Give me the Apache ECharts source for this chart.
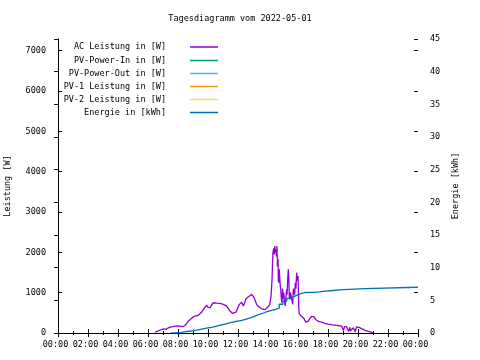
<!DOCTYPE html>
<html>
<head>
<meta charset="utf-8">
<script src="https://cdn.jsdelivr.net/npm/echarts@6/dist/echarts.min.js"></script>
<style>html,body{margin:0;padding:0;background:#fff}#c{width:480px;height:360px}</style>
</head>
<body>
<div id="c"></div>
<script>
// ---- data (time in hours of day) ----
const titleText = 'Tagesdiagramm vom 2022-05-01';
const seriesNames = ['AC Leistung in [W]', 'PV-Power-In in [W]', 'PV-Power-Out in [W]', 'PV-1 Leistung in [W]', 'PV-2 Leistung in [W]', 'Energie in [kWh]'];
const seriesColors = ['#9400d3', '#009e73', '#56b4e9', '#e69f00', '#f0e442', '#0072b2'];
const xTicks = [0, 2, 4, 6, 8, 10, 12, 14, 16, 18, 20, 22, 24];

const acTimes = [6.47, 6.55, 6.62, 6.69, 6.75, 6.85, 6.91, 6.98, 7.05, 7.13, 7.2, 7.28, 7.36, 7.45, 7.55, 7.69, 7.8, 7.9, 8.02, 8.1, 8.2, 8.3, 8.36, 8.45, 8.58, 8.7, 8.8, 8.95, 9.05, 9.13, 9.25, 9.36, 9.47, 9.58, 9.69, 9.8, 9.91, 9.98, 10.05, 10.13, 10.25, 10.36, 10.47, 10.58, 10.7, 10.8, 10.9, 11.02, 11.13, 11.24, 11.35, 11.47, 11.56, 11.64, 11.75, 11.87, 11.98, 12.09, 12.17, 12.24, 12.36, 12.45, 12.53, 12.65, 12.76, 12.85, 12.91, 13.0, 13.07, 13.15, 13.24, 13.35, 13.47, 13.58, 13.69, 13.8, 13.91, 14.0, 14.05, 14.1, 14.15, 14.2, 14.27, 14.3, 14.33, 14.38, 14.42, 14.45, 14.49, 14.53, 14.57, 14.6, 14.63, 14.67, 14.69, 14.71, 14.75, 14.78, 14.82, 14.85, 14.89, 14.93, 14.97, 15.01, 15.05, 15.1, 15.15, 15.2, 15.24, 15.27, 15.31, 15.35, 15.38, 15.42, 15.45, 15.5, 15.55, 15.6, 15.65, 15.69, 15.73, 15.78, 15.82, 15.86, 15.91, 15.95, 16.0, 16.03, 16.05, 16.08, 16.13, 16.2, 16.36, 16.45, 16.53, 16.6, 16.69, 16.77, 16.84, 16.91, 16.98, 17.05, 17.13, 17.2, 17.29, 17.4, 17.58, 17.7, 17.8, 18.0, 18.13, 18.3, 18.58, 18.75, 18.91, 19.02, 19.03, 19.1, 19.24, 19.36, 19.37, 19.47, 19.48, 19.69, 19.8, 19.81, 19.9, 20.02, 20.08, 20.12, 20.14, 20.24, 20.35, 20.47, 20.58, 20.69, 20.8, 20.91, 21.0];
const acValues = [20, 60, 40, 75, 45, 80, 50, 90, 100, 110, 90, 125, 130, 145, 150, 156, 165, 175, 190, 170, 185, 160, 175, 180, 240, 300, 340, 380, 400, 420, 430, 440, 470, 520, 585, 640, 690, 640, 660, 625, 700, 750, 770, 740, 760, 735, 740, 710, 700, 668, 620, 545, 500, 486, 490, 520, 620, 710, 740, 760, 668, 760, 850, 880, 916, 940, 960, 920, 876, 800, 710, 660, 628, 600, 568, 580, 600, 650, 668, 700, 792, 900, 1330, 1700, 1992, 2100, 1950, 2157, 2000, 2075, 1900, 2157, 1650, 1826, 1300, 1248, 1578, 1578, 1150, 1082, 850, 752, 1100, 850, 1000, 800, 668, 900, 1082, 950, 1300, 1578, 1450, 900, 834, 1000, 1000, 800, 710, 1100, 1082, 950, 1248, 1100, 1496, 1300, 1412, 1000, 668, 480, 450, 420, 380, 320, 270, 280, 295, 350, 380, 410, 420, 405, 380, 330, 295, 280, 270, 250, 238, 220, 213, 200, 189, 180, 172, 165, 60, 160, 156, 150, 40, 145, 50, 131, 125, 30, 150, 172, 140, 100, 150, 107, 90, 65, 50, 40, 25, 15, 5];

const pvInValues = [];
const pvOutValues = [];
const pv1Values = [];
const pv2Values = [];

const energyTimes = [7.53, 7.75, 8.0, 8.25, 8.5, 8.75, 9.0, 9.25, 9.5, 9.75, 10.0, 10.25, 10.5, 10.75, 11.0, 11.25, 11.5, 11.75, 12.0, 12.25, 12.5, 12.75, 13.0, 13.25, 13.5, 13.75, 14.0, 14.25, 14.5, 14.75, 15.0, 15.25, 15.5, 15.75, 16.0, 16.25, 16.5, 17.0, 17.42, 18.13, 19.02, 20.47, 24.0];
const energyValues = [0, 0.05, 0.1, 0.2, 0.27, 0.35, 0.45, 0.55, 0.67, 0.77, 0.87, 1.0, 1.17, 1.3, 1.45, 1.58, 1.72, 1.83, 1.94, 2.1, 2.28, 2.48, 2.7, 2.91, 3.1, 3.3, 3.47, 3.6, 3.8, 4.4, 4.9, 5.3, 5.6, 5.85, 6.05, 6.2, 6.23, 6.28, 6.47, 6.63, 6.78, 7.0, 7.0];

// ---- chart ----
const FONT = '"DejaVu Sans Mono", "Liberation Mono", monospace';
const FS = 8.5;
const pairs = (xs, ys) => xs.map((x, i) => [x, ys[i]]);
const pad2 = n => (n < 10 ? '0' : '') + n;

const chart = echarts.init(document.getElementById('c'), null, {renderer: 'canvas'});

const legendTops = [47, 60.5, 73.5, 86.5, 99.5, 112.5];
const legends = seriesNames.map((n, i) => ({
  data: [n],
  orient: 'horizontal',
  align: 'right',
  right: 262,
  top: legendTops[i] - 5,
  padding: 0,
  itemWidth: 28,
  itemHeight: 1.5,
  icon: 'rect',
  selectedMode: false,
  textStyle: {fontFamily: FONT, fontSize: FS, color: '#000', lineHeight: 10, padding: [0, 19, 0, 0]}
}));

const axisTextStyle = {fontFamily: FONT, fontSize: FS, color: '#000'};
const lineBlack = {show: true, lineStyle: {color: '#000', width: 1}};

const option = {
  animation: false,
  backgroundColor: '#fff',
  title: {text: titleText, left: 'center', top: 14, padding: 0,
    textStyle: {fontFamily: FONT, fontSize: FS, fontWeight: 'normal', color: '#000'}},
  legend: legends,
  grid: {left: 58, right: 62, top: 39, bottom: 27, containLabel: false, outerBoundsMode: 'none'},
  xAxis: [
    {type: 'value', position: 'bottom', min: 0, max: 24, interval: 2,
      axisLine: lineBlack, splitLine: {show: false},
      axisTick: {show: true, inside: true, length: 4, lineStyle: {color: '#000'}},
      minorTick: {show: true, splitNumber: 2, length: 2, lineStyle: {color: '#000'}},
      axisLabel: Object.assign({margin: 7, padding: [0, 5, 0, 0], formatter: v => xTicks.indexOf(v) >= 0 ? pad2(v % 24) + ':00' : ''}, axisTextStyle)},
    {type: 'value', position: 'top', min: 0, max: 24, interval: 2,
      axisLine: lineBlack, splitLine: {show: false},
      axisTick: {show: true, inside: true, length: 4, lineStyle: {color: '#000'}},
      minorTick: {show: true, splitNumber: 2, length: 2, lineStyle: {color: '#000'}},
      axisLabel: {show: false}}
  ],
  yAxis: [
    {type: 'value', position: 'left', min: 0, max: 7290, interval: 1000,
      name: 'Leistung [W]', nameLocation: 'middle', nameRotate: 90, nameGap: 46,
      nameTextStyle: axisTextStyle,
      axisLine: lineBlack, splitLine: {show: false},
      axisTick: {show: true, inside: true, length: 4, lineStyle: {color: '#000'}},
      axisLabel: Object.assign({margin: 12, showMaxLabel: false, formatter: v => v % 1000 === 0 ? String(v) : ''}, axisTextStyle)},
    {type: 'value', position: 'right', min: 0, max: 45, interval: 5,
      name: 'Energie [kWh]', nameLocation: 'middle', nameRotate: 90, nameGap: 33,
      nameTextStyle: axisTextStyle,
      axisLine: lineBlack, splitLine: {show: false},
      axisTick: {show: true, inside: true, length: 4, lineStyle: {color: '#000'}},
      axisLabel: Object.assign({margin: 12, align: 'left'}, axisTextStyle)},
    // mirror of the power ticks on the right frame
    {type: 'value', position: 'right', offset: 0, min: 0, max: 7290, interval: 1000,
      axisLine: {show: false}, splitLine: {show: false},
      axisTick: {show: true, inside: true, length: 4, lineStyle: {color: '#000'}},
      axisLabel: {show: false}}
  ],
  series: [
    {name: seriesNames[0], type: 'line', color: seriesColors[0], showSymbol: false, symbol: 'none',
      lineStyle: {width: 1.3, color: seriesColors[0]}, data: pairs(acTimes, acValues), z: 3},
    {name: seriesNames[1], type: 'line', color: seriesColors[1], showSymbol: false, symbol: 'none',
      lineStyle: {width: 1.3}, data: pvInValues},
    {name: seriesNames[2], type: 'line', color: seriesColors[2], showSymbol: false, symbol: 'none',
      lineStyle: {width: 1.3}, data: pvOutValues},
    {name: seriesNames[3], type: 'line', color: seriesColors[3], showSymbol: false, symbol: 'none',
      lineStyle: {width: 1.3}, data: pv1Values},
    {name: seriesNames[4], type: 'line', color: seriesColors[4], showSymbol: false, symbol: 'none',
      lineStyle: {width: 1.3}, data: pv2Values},
    {name: seriesNames[5], type: 'line', color: seriesColors[5], yAxisIndex: 1, step: 'end', showSymbol: false, symbol: 'none',
      lineStyle: {width: 1.3, color: seriesColors[5]}, data: pairs(energyTimes, energyValues), z: 4}
  ]
};
chart.setOption(option);
</script>
</body>
</html>
